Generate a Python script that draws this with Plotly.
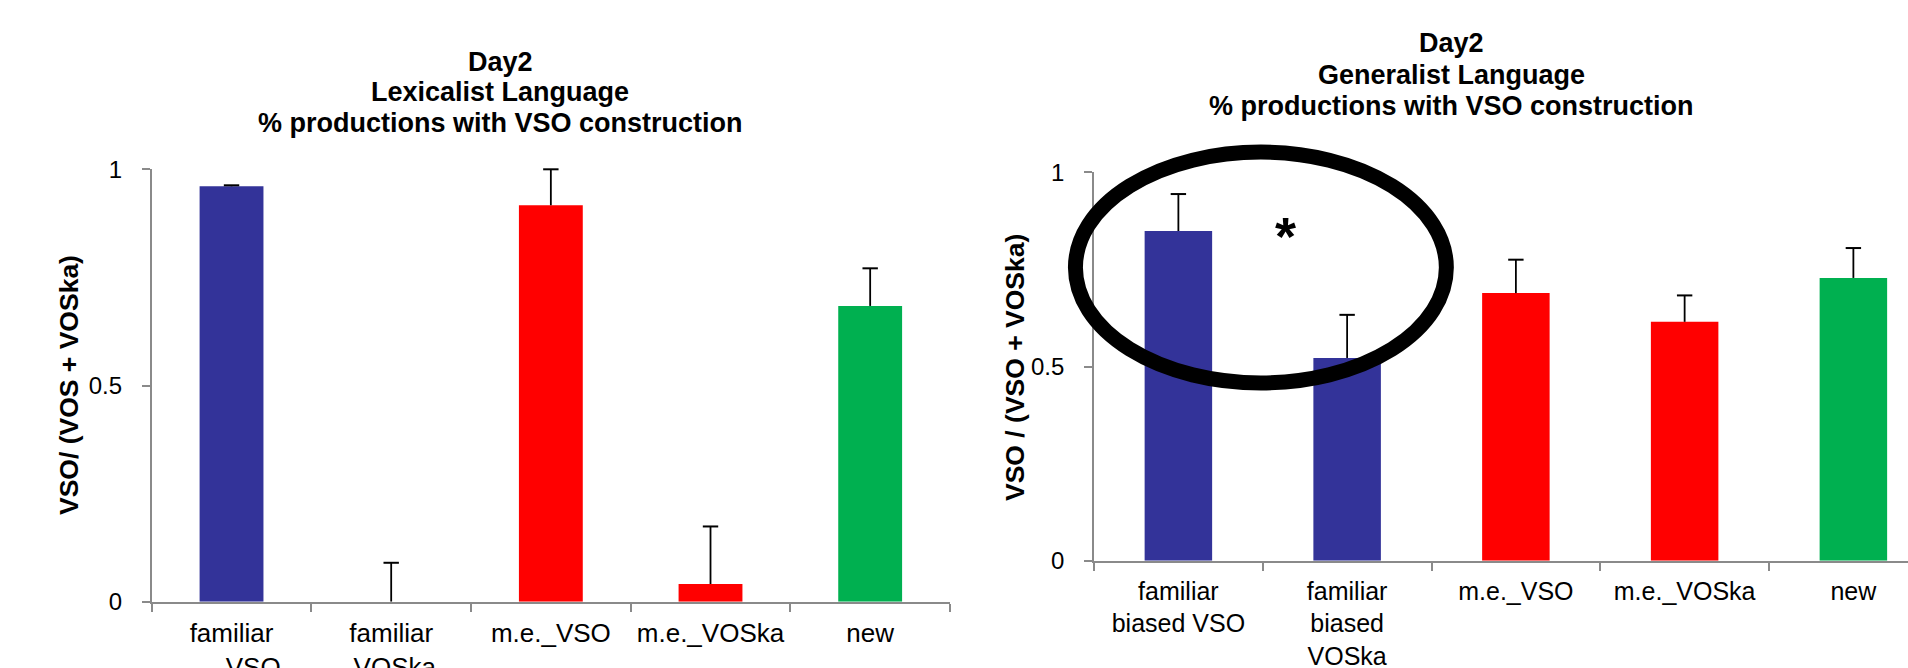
import plotly.graph_objects as go

# ---------------- data ----------------
left_categories = ["familiar<br>\u00a0\u00a0\u00a0\u00a0\u00a0\u00a0VSO", "familiar<br>\u00a0VOSka", "m.e._VSO", "m.e._VOSka", "new"]
left_values = [0.961, 0.0, 0.917, 0.041, 0.684]
left_errors = [0.002, 0.090, 0.083, 0.133, 0.087]

right_categories = ["familiar<br>biased VSO", "familiar<br>biased<br>VOSka", "m.e._VSO", "m.e._VOSka", "new"]
right_values = [0.849, 0.522, 0.689, 0.615, 0.728]
right_errors = [0.095, 0.111, 0.086, 0.068, 0.077]

bar_colors = ["#333399", "#333399", "#FF0000", "#FF0000", "#00B050"]

left_title_lines = ["Day2", "Lexicalist Language", "% productions with VSO construction"]
right_title_lines = ["Day2", "Generalist Language", "% productions with VSO construction"]
left_ylabel = "VSO/ (VOS + VOSka)"
right_ylabel = "VSO / (VSO + VOSka)"
y_ticks = [0, 0.5, 1]
y_ticktext = ["0", "0.5", "1"]

# highlight ellipse (in right-chart data units) and significance mark
ellipse_x = [-0.61, 1.588]
ellipse_y = [0.4575, 1.052]
star_pos = (0.632, 0.864)

# ---------------- layout geometry ----------------
W, H = 1908, 668
FONT = "Arial, 'Liberation Sans', sans-serif"
AX_COL = "#8a8a8a"

lx_dom = [151.7 / W, 950 / W]
rx_dom = [1094 / W, 1.0]
ly_dom = [1 - 601.7 / H, 1 - 169.3 / H]
ry_dom = [1 - 560.7 / H, 1 - 172.3 / H]
rx_range = [-0.5, -0.5 + (W - 1094) / 168.75]

fig = go.Figure()


def add_bars(cats, vals, errs, xa, ya):
    # bars with error stems (no caps)
    fig.add_trace(go.Bar(
        x=cats, y=vals, marker=dict(color=bar_colors, line=dict(width=0)),
        width=0.4,
        error_y=dict(type="data", symmetric=False, array=errs, arrayminus=[0] * len(errs),
                     color="black", thickness=1.8, width=0),
        xaxis=xa, yaxis=ya, showlegend=False, hoverinfo="skip"))
    # caps at the top of each error bar
    fig.add_trace(go.Scatter(
        x=cats, y=[v + e for v, e in zip(vals, errs)], mode="markers",
        marker=dict(symbol="line-ew", size=11, line=dict(color="black", width=2)),
        xaxis=xa, yaxis=ya, showlegend=False, hoverinfo="skip", cliponaxis=False))


add_bars(left_categories, left_values, left_errors, "x", "y")
add_bars(right_categories, right_values, right_errors, "x2", "y2")

xcommon = dict(type="category", showline=True, linecolor=AX_COL, linewidth=1.6,
               ticks="outside", tickson="boundaries", ticklen=8, tickcolor=AX_COL, tickwidth=1.6,
               showgrid=False, zeroline=False, fixedrange=True, automargin=False)
ycommon = dict(range=[0, 1], showline=True, linecolor=AX_COL, linewidth=1.6,
               ticks="outside", ticklen=8, tickcolor=AX_COL, tickwidth=1.6,
               tickvals=y_ticks, ticktext=y_ticktext, ticklabelstandoff=15,
               tickfont=dict(family=FONT, size=24, color="black"), showgrid=False, zeroline=False,
               fixedrange=True, automargin=False)

fig.update_layout(
    width=W, height=H, margin=dict(l=0, r=0, t=0, b=0, autoexpand=False),
    paper_bgcolor="white", plot_bgcolor="white",
    bargap=0.6,
    xaxis=dict(domain=lx_dom, range=[-0.5, 4.5], anchor="y", ticklabelstandoff=7,
               tickfont=dict(family=FONT, size=26, color="black"), **xcommon),
    yaxis=dict(domain=ly_dom, anchor="x", **ycommon),
    xaxis2=dict(domain=rx_dom, range=rx_range, anchor="y2", ticklabelstandoff=7,
                tickfont=dict(family=FONT, size=25, color="black"), **xcommon),
    yaxis2=dict(domain=ry_dom, anchor="x2", **ycommon),
)


def to_paper(v, dom, rng):
    return dom[0] + (v - rng[0]) / (rng[1] - rng[0]) * (dom[1] - dom[0])


fig.add_shape(type="circle", xref="paper", yref="paper",
              x0=to_paper(ellipse_x[0], rx_dom, rx_range), x1=to_paper(ellipse_x[1], rx_dom, rx_range),
              y0=to_paper(ellipse_y[0], ry_dom, [0, 1]), y1=to_paper(ellipse_y[1], ry_dom, [0, 1]),
              line=dict(color="black", width=15), fillcolor="rgba(0,0,0,0)", layer="above")

annotations = []
for lines, cx, ys in [(left_title_lines, 500, [61.7, 91.7, 122.5]),
                      (right_title_lines, 1451.7, [43.3, 75, 106])]:
    for line, yy in zip(lines, ys):
        annotations.append(dict(text=line, x=cx / W, y=1 - yy / H, xref="paper", yref="paper",
                                xanchor="center", yanchor="middle", showarrow=False,
                                font=dict(family=FONT, size=27, color="black", weight="bold")))
annotations += [
    dict(text=left_ylabel, x=69.5 / W, y=1 - 385.5 / H, xref="paper", yref="paper",
         xanchor="center", yanchor="middle", textangle=-90, showarrow=False,
         font=dict(family=FONT, size=26.5, color="black", weight="bold")),
    dict(text=right_ylabel, x=1014.5 / W, y=1 - 367.5 / H, xref="paper", yref="paper",
         xanchor="center", yanchor="middle", textangle=-90, showarrow=False,
         font=dict(family=FONT, size=26.5, color="black", weight="bold")),
    dict(text="*", x=star_pos[0], y=star_pos[1], xref="x2", yref="y2",
         xanchor="center", yanchor="middle", showarrow=False, yshift=-11,
         font=dict(family=FONT, size=54, color="black", weight="bold")),
]
fig.update_layout(annotations=annotations)

fig.write_html("out.html", config={"displayModeBar": False},
               post_script="document.body.style.margin='0px';document.body.style.overflow='hidden';")
